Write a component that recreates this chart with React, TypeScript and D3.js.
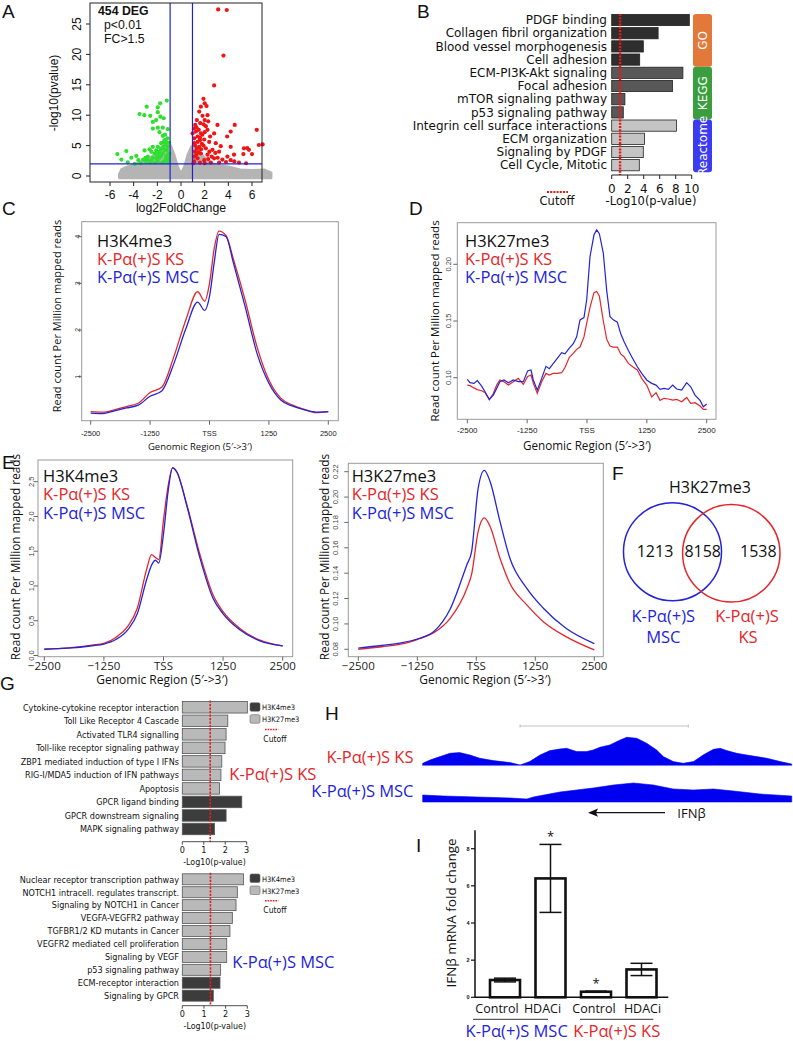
import React from 'react';
import * as d3 from 'd3';

const RED = '#e3262b';
const BLUE = '#2424d6';
const SANS = '"Open Sans", "Noto Sans", sans-serif';
const ARIAL = '"Liberation Sans", Arial, sans-serif';
const DJV = '"DejaVu Sans", sans-serif';
const DJVC = '"DejaVu Sans Condensed", "DejaVu Sans", sans-serif';

// ---------- A: volcano ----------
const grayX = [-5.2, -5, -4.5, -4, -3.5, -3, -2.5, -2, -1.6, -1.3, -1.1, -0.9, -0.6, -0.3, 0, 0.3, 0.6, 0.9, 1.1, 1.4, 1.8, 2.2, 2.7, 3.2, 4, 5, 6, 7, 7.6];
const grayTop = [0.3, 1.1, 1.5, 1.8, 2.2, 2.6, 3.1, 3.7, 4.4, 5.2, 5.4, 5.0, 3.5, 1.5, 0.3, 1.5, 3.5, 4.8, 5.0, 4.6, 3.3, 2.6, 2.0, 1.7, 1.5, 1.0, 0.9, 1.0, 0.5];
const greenPts: [number, number][] = [
  [-1.2, 12.4], [-1.96, 11.3], [-1.76, 11.95], [-2.9, 11.4], [-3.5, 10.2], [-3.1, 10.0], [-2.6, 9.9], [-1.96, 10.5],
  [-1.74, 9.76], [-1.46, 9.5], [-2.1, 9.2], [-2.38, 8.9], [-1.96, 7.95], [-1.54, 7.95], [-1.12, 7.7], [-1.82, 7.2],
  [-2.38, 7.8], [-1.54, 6.6], [-1.4, 5.9], [-1.68, 5.4], [-1.26, 5.6], [-1.96, 4.8], [-2.38, 4.8], [-2.66, 4.4],
  [-3.08, 4.2], [-3.78, 3.3], [-4.62, 4.1], [-5.38, 3.6], [-5.04, 2.7], [-3.6, 2.6], [-4.5, 2.25], [-3.2, 2.7],
  [-2.8, 3.2], [-2.24, 3.7], [-1.82, 4.0], [-1.4, 4.3], [-1.12, 4.8], [-0.98, 3.7], [-1.26, 3.2], [-1.68, 3.3],
  [-2.1, 2.9], [-2.52, 2.5], [-2.94, 2.4], [-1.96, 2.4], [-1.4, 2.4], [-1.12, 2.6], [-1.54, 3.7], [-1.12, 3.5],
  [-1.1, 2.2], [-1.3, 2.8], [-1.6, 2.2], [-1.8, 3.0], [-2.0, 3.4], [-2.2, 2.2], [-2.4, 3.0], [-2.6, 2.2],
  [-2.8, 2.6], [-3.0, 3.0], [-1.2, 4.2], [-1.5, 4.8], [-1.7, 4.5], [-1.9, 3.8], [-2.1, 4.2], [-1.3, 5.2],
  [-1.0, 5.5], [-1.45, 5.5], [-1.15, 6.2], [-1.35, 6.8], [-3.4, 2.1], [-3.9, 2.0], [-4.2, 3.0], [-2.5, 4.0], [-1.05, 3.0],
];
const redPts: [number, number][] = [
  [3.14, 27.4], [3.87, 27.3], [3.59, 19.8], [2.8, 14.9], [1.9, 12.7], [2.0, 11.95], [2.16, 11.5], [1.68, 11.4],
  [1.54, 10.6], [1.82, 9.9], [2.24, 10.0], [2.0, 9.2], [1.34, 9.2], [1.62, 8.7], [3.08, 8.4], [4.54, 8.4],
  [4.2, 7.3], [3.9, 6.5], [2.8, 7.0], [2.24, 7.6], [1.2, 8.4], [1.26, 7.3], [1.68, 7.0], [1.4, 6.5],
  [1.96, 6.0], [2.38, 5.6], [2.94, 5.4], [3.36, 4.9], [4.2, 4.8], [5.32, 4.55], [5.74, 4.3], [6.58, 5.1],
  [5.27, 3.6], [6.0, 3.6], [4.48, 3.5], [3.92, 3.2], [3.22, 4.0], [2.66, 4.3], [2.1, 4.55], [1.54, 4.8],
  [1.12, 5.4], [1.18, 4.0], [1.68, 3.7], [2.24, 3.5], [2.8, 2.9], [3.5, 2.7], [4.2, 2.6], [4.9, 2.2],
  [1.4, 2.9], [1.96, 2.6], [1.12, 2.4], [2.52, 2.2], [3.22, 2.2], [1.6, 5.9], [1.34, 4.5], [1.76, 5.3],
  [2.46, 6.5], [0.98, 7.0], [1.12, 6.2], [1.1, 3.2], [1.3, 3.5], [1.5, 3.9], [1.7, 4.4], [1.9, 5.0],
  [1.2, 5.0], [1.4, 5.6], [1.6, 6.3], [1.8, 6.8], [2.0, 7.2], [1.1, 7.8], [1.3, 8.0], [1.5, 7.6],
  [2.1, 8.2], [2.3, 9.0], [1.9, 8.5], [2.6, 3.2], [2.9, 3.8], [3.1, 3.0], [2.4, 4.0], [1.05, 2.1],
  [1.6, 2.2], [2.0, 2.1], [2.3, 2.8], [3.8, 2.3], [4.5, 2.4], [5.5, 2.1], [6.4, 7.6], [6.9, 5.2], [5.6, 4.6],
];

// ---------- B: enrichment ----------
const bTerms = ['PDGF binding', 'Collagen fibril organization', 'Blood vessel morphogenesis', 'Cell adhesion',
  'ECM-PI3K-Akt signaling', 'Focal adhesion', 'mTOR signaling pathway', 'p53 signaling pathway',
  'Integrin cell surface interactions', 'ECM organization', 'Signaling by PDGF', 'Cell Cycle, Mitotic'];
const bValues = [9.7, 5.8, 3.95, 3.5, 8.9, 7.6, 1.65, 1.45, 8.1, 4.1, 3.95, 3.45];
const bSource = ['GO', 'GO', 'GO', 'GO', 'KEGG', 'KEGG', 'KEGG', 'KEGG', 'Reactome', 'Reactome', 'Reactome', 'Reactome'];
const bDatabases = ['GO', 'KEGG', 'Reactome'];
const bTicks = [0, 2, 4, 6, 8, 10];
const bCutoff = 1.05;

// ---------- C / D / E: profiles ----------
const xTickVals = [-2500, -1250, 0, 1250, 2500];
const cPos = [-2500, -2250, -2000, -1750, -1500, -1250, -1000, -750, -500, -250, -100, 0, 100, 200, 350, 500, 750, 1000, 1250, 1500, 1750, 2000, 2250, 2500];
const cKS = [0.25, 0.24, 0.29, 0.36, 0.43, 0.66, 0.78, 1.43, 2.21, 2.82, 2.62, 3.0, 3.75, 4.12, 4.02, 3.53, 2.64, 1.64, 0.93, 0.54, 0.39, 0.3, 0.23, 0.25];
const cMSC = [0.22, 0.21, 0.27, 0.33, 0.39, 0.58, 0.7, 1.28, 2.02, 2.6, 2.42, 2.72, 3.45, 4.05, 4.0, 3.45, 2.5, 1.5, 0.86, 0.5, 0.37, 0.29, 0.24, 0.25];

const dPos = [-2500, -2444, -2361, -2291, -2200, -2131, -2040, -1957, -1887, -1818, -1734, -1643, -1539, -1435, -1330, -1240, -1170, -1121, -1038, -947, -857, -787, -703, -620, -529, -460, -369, -286, -216, -146, -63, -7, 63, 146, 202, 258, 341, 411, 480, 550, 634, 703, 773, 864, 954, 1052, 1142, 1247, 1351, 1442, 1525, 1609, 1699, 1790, 1873, 1978, 2082, 2166, 2256, 2361, 2430, 2500];
const dMSC = [0.0985, 0.0956, 0.095, 0.0974, 0.0926, 0.0876, 0.081, 0.0847, 0.0906, 0.0965, 0.098, 0.0956, 0.098, 0.0965, 0.0965, 0.106, 0.1068, 0.098, 0.089, 0.0994, 0.11, 0.108, 0.1126, 0.117, 0.122, 0.121, 0.126, 0.13, 0.136, 0.151, 0.153, 0.1685, 0.2068, 0.226, 0.2303, 0.227, 0.2097, 0.177, 0.1538, 0.151, 0.149, 0.139, 0.132, 0.124, 0.117, 0.1097, 0.1038, 0.098, 0.095, 0.0935, 0.0897, 0.0906, 0.0897, 0.0935, 0.09, 0.089, 0.0956, 0.092, 0.0847, 0.08, 0.0744, 0.0768];
const dKS = [0.0935, 0.093, 0.091, 0.0895, 0.0885, 0.087, 0.0805, 0.086, 0.0935, 0.098, 0.0965, 0.0935, 0.0965, 0.0994, 0.094, 0.101, 0.1024, 0.095, 0.0862, 0.0965, 0.1038, 0.1024, 0.1038, 0.1038, 0.1044, 0.109, 0.118, 0.1215, 0.125, 0.127, 0.136, 0.148, 0.162, 0.175, 0.176, 0.172, 0.15, 0.134, 0.128, 0.127, 0.127, 0.121, 0.1185, 0.1126, 0.1097, 0.1068, 0.0994, 0.0935, 0.083, 0.0868, 0.08, 0.0818, 0.0812, 0.0803, 0.0809, 0.0788, 0.0826, 0.0774, 0.078, 0.075, 0.0721, 0.0721];

const e1Pos = [-2500, -2000, -1500, -1250, -1000, -750, -550, -350, -250, -170, -100, 0, 100, 190, 280, 490, 765, 1040, 1250, 1600, 2020, 2500];
const e1KS = [0.09, 0.11, 0.15, 0.175, 0.26, 0.42, 0.68, 1.25, 1.45, 1.41, 1.38, 1.95, 2.45, 2.7, 2.64, 2.17, 1.45, 0.87, 0.63, 0.39, 0.22, 0.137];
const e1MSC = [0.09, 0.105, 0.14, 0.165, 0.23, 0.37, 0.6, 1.1, 1.3, 1.37, 1.33, 1.75, 2.38, 2.7, 2.64, 2.15, 1.4, 0.82, 0.6, 0.37, 0.21, 0.137];

const e2Pos = [-2500, -2000, -1600, -1200, -900, -550, -200, -100, 40, 170, 290, 500, 710, 1070, 1420, 1900, 2500];
const e2MSC = [0.081, 0.083, 0.085, 0.0887, 0.094, 0.112, 0.1467, 0.157, 0.207, 0.221, 0.2125, 0.181, 0.152, 0.128, 0.1124, 0.0966, 0.0845];
const e2KS = [0.08, 0.082, 0.084, 0.0885, 0.093, 0.1045, 0.128, 0.139, 0.173, 0.1836, 0.177, 0.152, 0.132, 0.115, 0.1018, 0.09, 0.0795];

// ---------- F: venn ----------
const vennCounts = [1213, 8158, 1538];

// ---------- G: enrichment by mark ----------
const gKsTerms = ['Cytokine-cytokine receptor interaction', 'Toll Like Receptor 4 Cascade', 'Activated TLR4 signalling',
  'Toll-like receptor signaling pathway', 'ZBP1 mediated induction of type I IFNs', 'RIG-I/MDA5 induction of IFN pathways',
  'Apoptosis', 'GPCR ligand binding', 'GPCR downstream signaling', 'MAPK signaling pathway'];
const gKsValues = [3.03, 2.12, 2.04, 1.99, 1.84, 1.8, 1.73, 2.77, 2.04, 1.5];
const gKsMarks = ['H3K27me3', 'H3K27me3', 'H3K27me3', 'H3K27me3', 'H3K27me3', 'H3K27me3', 'H3K27me3', 'H3K4me3', 'H3K4me3', 'H3K4me3'];
const gMscTerms = ['Nuclear receptor transcription pathway', 'NOTCH1 intracell. regulates transcript.', 'Signaling by NOTCH1 in Cancer',
  'VEGFA-VEGFR2 pathway', 'TGFBR1/2 KD mutants in Cancer', 'VEGFR2 mediated cell proliferation', 'Signaling by VEGF',
  'p53 signaling pathway', 'ECM-receptor interaction', 'Signaling by GPCR'];
const gMscValues = [2.82, 2.54, 2.48, 2.31, 2.2, 2.05, 2.05, 1.77, 1.74, 1.43];
const gMscMarks = ['H3K27me3', 'H3K27me3', 'H3K27me3', 'H3K27me3', 'H3K27me3', 'H3K27me3', 'H3K27me3', 'H3K27me3', 'H3K4me3', 'H3K4me3'];
const gTicks = [0, 1, 2, 3];
const gCutoff = 1.3;

// ---------- H: tracks (position in % of window, signal) ----------
const hKsPos = [0, 2, 4.7, 7.4, 10, 12.8, 15.5, 19.1, 23.7, 26.4, 29, 31.8, 34.5, 37.2, 39, 41.7, 44.4, 46.2, 48, 50.7, 53.5, 55.3, 58, 60.7, 63.4, 65.2, 67.9, 70.6, 73.4, 76, 78.8, 80.6, 82.4, 85.1, 87.8, 90.5, 93.3, 96.9, 100];
const hKsSig = [2, 5.3, 8.7, 12, 12.7, 10.3, 7, 4.7, 2.7, 0.3, 3.7, 10.3, 14.7, 16.3, 17, 13.7, 13.7, 15.3, 18, 20.3, 25.3, 28, 27, 22, 15.3, 8.7, 3.7, 2, 3.7, 10.3, 16, 17, 14.7, 12, 10.3, 8.7, 7, 3.7, 1.3];
const hMscPos = [0, 5.6, 14.6, 23.7, 28.2, 30, 37.2, 46.2, 51.7, 57.1, 62.5, 67.9, 73.4, 78.8, 84.2, 91.4, 100];
const hMscSig = [7, 6, 5, 4, 3, 5, 10, 14, 17, 19, 17, 13, 12, 13, 11, 8, 6];

// ---------- I: qPCR ----------
const iConds = ['Control', 'HDACi', 'Control', 'HDACi'];
const iMeans = [0.93, 6.4, 0.3, 1.5];
const iErrs = [0.1, 1.83, 0.03, 0.33];
const iStars = [false, true, true, false];
const iTicks = [0, 2, 4, 6, 8];

function Label({ x, y, t }: { x: number; y: number; t: string }) {
  return <text x={x} y={y} fontFamily={ARIAL} fontSize={19} fill="#111">{t}</text>;
}

function Volcano() {
  const x = d3.scaleLinear().domain([-6, 6]).range([110, 252]);
  const y = d3.scaleLinear().domain([0, 25]).range([176, 24]);
  const area = d3.area<number>().x((_, i) => x(grayX[i])).y0(y(-0.3)).y1((d) => y(d));
  return (
    <g>
      <path d={area(grayTop) || ''} fill="#b4b4b4" stroke="#b4b4b4" strokeWidth={3} strokeLinejoin="round" />
      {greenPts.map((p, i) => <circle key={'g' + i} cx={x(p[0])} cy={y(p[1])} r={2.1} fill="#2ee02e" />)}
      {redPts.map((p, i) => <circle key={'r' + i} cx={x(p[0])} cy={y(p[1])} r={2.1} fill="#f01414" />)}
      <line x1={x(-0.92)} x2={x(-0.92)} y1={3} y2={182} stroke="#2222cc" strokeWidth={1.2} />
      <line x1={x(0.97)} x2={x(0.97)} y1={3} y2={182} stroke="#2222cc" strokeWidth={1.2} />
      <line x1={90} x2={262} y1={y(2)} y2={y(2)} stroke="#2222cc" strokeWidth={1.2} />
      <rect x={90} y={3} width={172} height={179} fill="none" stroke="#222" strokeWidth={1} />
      {d3.range(-6, 7, 2).map((v) => (
        <g key={v}>
          <line x1={x(v)} x2={x(v)} y1={182} y2={186} stroke="#222" />
          <text x={x(v)} y={199} textAnchor="middle" fontFamily={ARIAL} fontSize={12} fill="#111">{v}</text>
        </g>
      ))}
      {d3.range(0, 26, 5).map((v) => (
        <g key={v}>
          <line x1={86} x2={90} y1={y(v)} y2={y(v)} stroke="#222" />
          <text transform={`translate(81,${y(v)}) rotate(-90)`} textAnchor="middle" fontFamily={ARIAL} fontSize={12} fill="#111">{v}</text>
        </g>
      ))}
      <text x={181} y={212} textAnchor="middle" fontFamily={ARIAL} fontSize={12.3} fill="#111">log2FoldChange</text>
      <text transform="translate(58,93) rotate(-90)" textAnchor="middle" fontFamily={ARIAL} fontSize={12} fill="#111">-log10(pvalue)</text>
      <text x={98} y={15} fontFamily={ARIAL} fontSize={12.3} fontWeight="bold" fill="#111">454 DEG</text>
      <text x={104} y={29} fontFamily={ARIAL} fontSize={12.3} fill="#111">p&lt;0.01</text>
      <text x={104} y={43} fontFamily={ARIAL} fontSize={12.3} fill="#111">FC&gt;1.5</text>
    </g>
  );
}

function EnrichB() {
  const x = d3.scaleLinear().domain([0, 10]).range([611.7, 691.7]);
  const y = d3.scaleBand<string>().domain(bTerms).range([13.4, 171.8]).paddingInner(0.15).paddingOuter(0.075);
  const fills: Record<string, string> = { GO: '#2e2e2e', KEGG: '#585858', Reactome: '#c4c4c4' };
  const boxColors: Record<string, string> = { GO: '#e2793a', KEGG: '#3a9e3e', Reactome: '#3b3bf2' };
  const bw = y.bandwidth();
  return (
    <g>
      {bTerms.map((t, i) => (
        <g key={t}>
          <rect x={x(0)} y={y(t)!} width={x(bValues[i]) - x(0)} height={bw} fill={fills[bSource[i]]} stroke="#222" strokeWidth={0.8} />
          <text x={607} y={y(t)! + bw / 2 + 4.2} textAnchor="end" fontFamily={DJV} fontSize={12} fill="#111">{t}</text>
        </g>
      ))}
      <line x1={x(bCutoff)} x2={x(bCutoff)} y1={14} y2={175} stroke="#e81818" strokeWidth={2.4} strokeDasharray="2,1.2" />
      {bDatabases.map((db) => {
        const rows = bTerms.filter((_, i) => bSource[i] === db);
        const top = y(rows[0])! - 0.5;
        const bot = y(rows[rows.length - 1])! + bw + 1.5;
        return (
          <g key={db}>
            <rect x={693} y={top} width={19} height={bot - top} rx={3} fill={boxColors[db]} />
            <text transform={`translate(${706.5},${(top + bot) / 2}) rotate(-90)`} textAnchor="middle" fontFamily={DJV} fontSize={12} fill="#fff">{db}</text>
          </g>
        );
      })}
      <line x1={x(0)} x2={x(10)} y1={175} y2={175} stroke="#222" strokeWidth={1} />
      {bTicks.map((v) => (
        <g key={v}>
          <line x1={x(v)} x2={x(v)} y1={175} y2={179} stroke="#222" />
          <text x={x(v)} y={193} textAnchor="middle" fontFamily={DJV} fontSize={12} fill="#111">{v}</text>
        </g>
      ))}
      <line x1={547} x2={568} y1={192} y2={192} stroke="#e81818" strokeWidth={2} strokeDasharray="2,1.2" />
      <text x={557} y={205} textAnchor="middle" fontFamily={DJV} fontSize={11.5} fill="#111">Cutoff</text>
      <text x={651} y={205} textAnchor="middle" fontFamily={DJV} fontSize={11.5} fill="#111">-Log10(p-value)</text>
    </g>
  );
}

type ProfProps = {
  frame: [number, number, number, number];
  xr: [number, number];
  yd: [number, number];
  yr: [number, number];
  yTicks: number[];
  yFmt: (v: number) => string;
  pos: number[];
  ks: number[];
  msc: number[];
  mark: string;
  legend: [number, number];
  tickY: number;
  tickFont: string;
  tickSize: number;
  minus: string;
  title: [number, number, number];
  yLabelX: number;
  yTitle: [number, number];
  ySize: number;
  curve: d3.CurveFactory;
  lw: number;
};

function Profile(p: ProfProps) {
  const [l, t, r, b] = p.frame;
  const x = d3.scaleLinear().domain([-2500, 2500]).range(p.xr);
  const y = d3.scaleLinear().domain(p.yd).range(p.yr);
  const line = d3.line<number>().x((_, i) => x(p.pos[i])).y((d) => y(d)).curve(p.curve);
  const xl = (v: number) => (v === 0 ? 'TSS' : v < 0 ? p.minus + Math.abs(v) : String(v));
  return (
    <g>
      <path d={line(p.ks) || ''} fill="none" stroke={RED} strokeWidth={p.lw} />
      <path d={line(p.msc) || ''} fill="none" stroke={BLUE} strokeWidth={p.lw} />
      <rect x={l} y={t} width={r - l} height={b - t} fill="none" stroke="#9a9a9a" strokeWidth={1} />
      {xTickVals.map((v) => (
        <g key={v}>
          <line x1={x(v)} x2={x(v)} y1={b} y2={b + 4} stroke="#666" />
          <text x={x(v)} y={p.tickY} textAnchor="middle" fontFamily={p.tickFont} fontSize={p.tickSize} fill="#222">{xl(v)}</text>
        </g>
      ))}
      {p.yTicks.map((v) => (
        <g key={v}>
          <line x1={l - 4} x2={l} y1={y(v)} y2={y(v)} stroke="#666" />
          <text transform={`translate(${p.yLabelX},${y(v)}) rotate(-90)`} textAnchor="middle" fontFamily={ARIAL} fontSize={7.5} fill="#444">{p.yFmt(v)}</text>
        </g>
      ))}
      <text x={p.title[0]} y={p.title[1]} textAnchor="middle" fontFamily={SANS} fontSize={p.title[2]} fill="#111">Genomic Region (5′-&gt;3′)</text>
      <text transform={`translate(${p.yTitle[0]},${p.yTitle[1]}) rotate(-90)`} textAnchor="middle" fontFamily={SANS} fontSize={p.ySize} fill="#111">Read count Per Million mapped reads</text>
      <text x={p.legend[0]} y={p.legend[1]} fontFamily={SANS} fontSize={16.5} fill="#111">{p.mark}</text>
      <text x={p.legend[0]} y={p.legend[1] + 18.3} fontFamily={SANS} fontSize={16.5} fill={RED}>K-Pα(+)S KS</text>
      <text x={p.legend[0]} y={p.legend[1] + 36.6} fontFamily={SANS} fontSize={16.5} fill={BLUE}>K-Pα(+)S MSC</text>
    </g>
  );
}

function Venn() {
  return (
    <g>
      <text x={710} y={493} textAnchor="middle" fontFamily={SANS} fontSize={16} fill="#111">H3K27me3</text>
      <circle cx={672.5} cy={551.7} r={49} fill="none" stroke={BLUE} strokeWidth={1.5} />
      <circle cx={731.3} cy={553.3} r={48.7} fill="none" stroke={RED} strokeWidth={1.5} />
      {vennCounts.map((c, i) => (
        <text key={i} x={[655, 702.7, 758.3][i]} y={557} textAnchor="middle" fontFamily={SANS} fontSize={16} fill="#111">{c}</text>
      ))}
      <text x={663.3} y={621.7} textAnchor="middle" fontFamily={SANS} fontSize={16.5} fill={BLUE}>K-Pα(+)S</text>
      <text x={663.3} y={643.3} textAnchor="middle" fontFamily={SANS} fontSize={16.5} fill={BLUE}>MSC</text>
      <text x={747} y={621.7} textAnchor="middle" fontFamily={SANS} fontSize={16.5} fill={RED}>K-Pα(+)S</text>
      <text x={748} y={643.3} textAnchor="middle" fontFamily={SANS} fontSize={16.5} fill={RED}>KS</text>
    </g>
  );
}

type GProps = {
  terms: string[];
  values: number[];
  marks: string[];
  rows: [number, number];
  xEnd: number;
  axisY: number;
  legendTop: number;
  name: string;
  nameColor: string;
  namePos: [number, number];
};

function EnrichG(p: GProps) {
  const x = d3.scaleLinear().domain([0, 3]).range([182.3, p.xEnd]);
  const y = d3.scaleBand<string>().domain(p.terms).range(p.rows).paddingInner(0.15).paddingOuter(0.075);
  const bw = y.bandwidth();
  const lt = p.legendTop;
  return (
    <g>
      {p.terms.map((t, i) => (
        <g key={t}>
          <rect x={x(0)} y={y(t)!} width={x(p.values[i]) - x(0)} height={bw}
            fill={p.marks[i] === 'H3K4me3' ? '#3c3c3c' : '#b9b9b9'} stroke="#555" strokeWidth={0.8} />
          <text x={179} y={y(t)! + bw / 2 + 3.3} textAnchor="end" fontFamily={DJVC} fontSize={9} fill="#111">{t}</text>
        </g>
      ))}
      <line x1={x(gCutoff)} x2={x(gCutoff)} y1={y(p.terms[0])! - 1} y2={p.axisY} stroke="#e02020" strokeWidth={1.6} strokeDasharray="2.2,1.3" />
      <line x1={x(0)} x2={x(3)} y1={p.axisY} y2={p.axisY} stroke="#222" strokeWidth={0.8} />
      {gTicks.map((v) => (
        <g key={v}>
          <line x1={x(v)} x2={x(v)} y1={p.axisY} y2={p.axisY + 3} stroke="#222" strokeWidth={0.8} />
          <text x={x(v)} y={p.axisY + 11} textAnchor="middle" fontFamily={DJVC} fontSize={9} fill="#111">{v}</text>
        </g>
      ))}
      <text x={(x(0) + x(3)) / 2} y={p.axisY + 23} textAnchor="middle" fontFamily={DJVC} fontSize={8.8} fill="#111">-Log10(p-value)</text>
      <rect x={250} y={lt} width={10} height={8.5} rx={1.5} fill="#3c3c3c" stroke="#666" strokeWidth={0.6} />
      <text x={262} y={lt + 7.5} fontFamily={DJVC} fontSize={7.5} fill="#111">H3K4me3</text>
      <rect x={250} y={lt + 12} width={10} height={8.5} rx={1.5} fill="#b9b9b9" stroke="#666" strokeWidth={0.6} />
      <text x={262} y={lt + 19.7} fontFamily={DJVC} fontSize={7.5} fill="#111">H3K27me3</text>
      <line x1={265} x2={278.3} y1={lt + 26.8} y2={lt + 26.8} stroke="#e02020" strokeWidth={1.4} strokeDasharray="1.6,1" />
      <text x={263.3} y={lt + 38.8} fontFamily={DJVC} fontSize={8.5} fill="#111">Cutoff</text>
      <text x={p.namePos[0]} y={p.namePos[1]} fontFamily={SANS} fontSize={16.5} fill={p.nameColor}>{p.name}</text>
    </g>
  );
}

function Tracks() {
  const x = d3.scaleLinear().domain([0, 100]).range([422.7, 791.7]);
  const ksY = d3.scaleLinear().domain([0, 28]).range([765.3, 737.3]);
  const mscY = d3.scaleLinear().domain([0, 19]).range([802, 783]);
  const ksArea = d3.area<number>().x((_, i) => x(hKsPos[i])).y0(ksY(0)).y1((d) => ksY(d));
  const mscArea = d3.area<number>().x((_, i) => x(hMscPos[i])).y0(mscY(0)).y1((d) => mscY(d));
  return (
    <g>
      <line x1={520} x2={688.3} y1={726} y2={726} stroke="#999" strokeWidth={0.6} />
      <line x1={520} x2={520} y1={724.5} y2={727.5} stroke="#999" strokeWidth={0.6} />
      <line x1={688.3} x2={688.3} y1={724.5} y2={727.5} stroke="#999" strokeWidth={0.6} />
      <path d={ksArea(hKsSig) || ''} fill="#0000f0" stroke="#0000f0" strokeWidth={0.6} />
      <line x1={422.7} x2={791.7} y1={765.6} y2={765.6} stroke="#8888ff" strokeWidth={0.6} />
      <path d={mscArea(hMscSig) || ''} fill="#0000f0" stroke="#0000f0" strokeWidth={0.6} />
      <text x={413.5} y={762.7} textAnchor="end" fontFamily={SANS} fontSize={16.5} fill={RED}>K-Pα(+)S KS</text>
      <text x={413.5} y={797} textAnchor="end" fontFamily={SANS} fontSize={16.5} fill={BLUE}>K-Pα(+)S MSC</text>
      <line x1={596} x2={665} y1={812.7} y2={812.7} stroke="#111" strokeWidth={1.3} />
      <path d="M588,812.7 L598,808.6 L596,812.7 L598,816.8 Z" fill="#111" />
      <text x={677.3} y={818.3} fontFamily={SANS} fontSize={13} fill="#111">IFNβ</text>
    </g>
  );
}

const iLabelShift = [-8, -8, -2, 1];

function QPCR() {
  const y = d3.scaleLinear().domain([0, 8]).range([997.3, 848.7]);
  const x = d3.scalePoint<number>().domain(d3.range(iConds.length)).range([505, 641.5]);
  const bw = 30;
  return (
    <g>
      <line x1={475} x2={475} y1={y(9)} y2={y(0)} stroke="#111" strokeWidth={1.5} />
      <line x1={475} x2={668.3} y1={y(0)} y2={y(0)} stroke="#111" strokeWidth={1.5} />
      {iTicks.map((v) => (
        <g key={v}>
          <line x1={471} x2={475} y1={y(v)} y2={y(v)} stroke="#111" strokeWidth={1.2} />
          <text x={469.5} y={y(v) + 2} textAnchor="end" fontFamily={ARIAL} fontWeight="bold" fontSize={5.5} fill="#111">{v}</text>
        </g>
      ))}
      {iConds.map((c, i) => {
        const cx = x(i)!;
        return (
          <g key={i}>
            <line x1={cx} x2={cx} y1={y(iMeans[i] + iErrs[i])} y2={y(iMeans[i] - iErrs[i])} stroke="#111" strokeWidth={1.5} />
            <line x1={cx - 11} x2={cx + 11} y1={y(iMeans[i] + iErrs[i])} y2={y(iMeans[i] + iErrs[i])} stroke="#111" strokeWidth={1.5} />
            <line x1={cx - 11} x2={cx + 11} y1={y(iMeans[i] - iErrs[i])} y2={y(iMeans[i] - iErrs[i])} stroke="#111" strokeWidth={1.5} />
            <rect x={cx - bw / 2} y={y(iMeans[i])} width={bw} height={y(0) - y(iMeans[i])} fill="none" stroke="#111" strokeWidth={2.6} />
            {iStars[i] && (
              <text x={cx} y={y(iMeans[i] + iErrs[i]) - 3} textAnchor="middle" fontFamily={SANS} fontSize={13} fill="#111">*</text>
            )}
            <text x={cx + iLabelShift[i]} y={1013.3} textAnchor="middle" fontFamily={SANS} fontSize={12.5} fill="#111">{c}</text>
          </g>
        );
      })}
      <line x1={473} x2={548} y1={1019.3} y2={1019.3} stroke="#333" strokeWidth={1} />
      <line x1={580} x2={653.3} y1={1019.3} y2={1019.3} stroke="#333" strokeWidth={1} />
      <text x={516.7} y={1036.7} textAnchor="middle" fontFamily={SANS} fontSize={16.5} fill={BLUE}>K-Pα(+)S MSC</text>
      <text x={616.7} y={1036.7} textAnchor="middle" fontFamily={SANS} fontSize={16.5} fill={RED}>K-Pα(+)S KS</text>
      <text transform="translate(456,913) rotate(-90)" textAnchor="middle" fontFamily={SANS} fontSize={13.5} fill="#111">IFNβ mRNA fold change</text>
    </g>
  );
}

export default function App() {
  return (
    <div style={{ position: 'absolute', left: 0, top: 0 }}>
      <svg width={793} height={1041} style={{ display: 'block' }}>
        <rect width={793} height={1041} fill="#fff" />
        <Label x={2} y={17.5} t="A" />
        <Volcano />
        <Label x={417} y={17.5} t="B" />
        <EnrichB />
        <Label x={2} y={215} t="C" />
        <Profile frame={[81.7, 221.7, 338.3, 420.7]} xr={[90.7, 328.3]} yd={[1, 4]} yr={[376.7, 236.7]}
          yTicks={[1, 2, 3, 4]} yFmt={(v) => String(v)} pos={cPos} ks={cKS} msc={cMSC} mark="H3K4me3"
          legend={[97, 246.7]} tickY={435.5} tickFont={ARIAL} tickSize={7.5} minus="-" title={[200, 450, 9.5]}
          yLabelX={80} yTitle={[61, 316]} ySize={11} curve={d3.curveMonotoneX} lw={1.3} />
        <Label x={409} y={215} t="D" />
        <Profile frame={[457.3, 222.7, 716, 419.3]} xr={[467.3, 706.7]} yd={[0.1, 0.2]} yr={[377.7, 264.3]}
          yTicks={[0.1, 0.15, 0.2]} yFmt={(v) => v.toFixed(2)} pos={dPos} ks={dKS} msc={dMSC} mark="H3K27me3"
          legend={[465, 246.7]} tickY={433} tickFont={ARIAL} tickSize={8} minus="-" title={[587, 450, 11.7]}
          yLabelX={451} yTitle={[439, 321]} ySize={11.5} curve={d3.curveLinear} lw={1.2} />
        <Label x={2} y={469} t="E" />
        <Profile frame={[38, 460, 292.7, 656.7]} xr={[44.3, 282.7]} yd={[0, 2.5]} yr={[655.5, 481.7]}
          yTicks={[0, 0.5, 1, 1.5, 2, 2.5]} yFmt={(v) => v.toFixed(1)} pos={e1Pos} ks={e1KS} msc={e1MSC} mark="H3K4me3"
          legend={[43, 482]} tickY={670} tickFont={SANS} tickSize={11.5} minus="−" title={[162, 684, 12]}
          yLabelX={34} yTitle={[20, 557]} ySize={11.8} curve={d3.curveMonotoneX} lw={1.3} />
        <Profile frame={[348.3, 463.3, 603.3, 656.7]} xr={[358.3, 594.3]} yd={[0.08, 0.22]} yr={[649.3, 471.7]}
          yTicks={[0.08, 0.1, 0.12, 0.14, 0.16, 0.18, 0.2, 0.22]} yFmt={(v) => v.toFixed(2)} pos={e2Pos} ks={e2KS} msc={e2MSC} mark="H3K27me3"
          legend={[351.7, 482]} tickY={670} tickFont={SANS} tickSize={11.5} minus="−" title={[485, 684, 12]}
          yLabelX={338} yTitle={[329, 557]} ySize={11.8} curve={d3.curveMonotoneX} lw={1.3} />
        <Label x={612} y={480} t="F" />
        <Venn />
        <Label x={0} y={690} t="G" />
        <EnrichG terms={gKsTerms} values={gKsValues} marks={gKsMarks} rows={[700.54, 835.74]} xEnd={246.7} axisY={841.7}
          legendTop={702.7} name="K-Pα(+)S KS" nameColor={RED} namePos={[229.3, 780]} />
        <EnrichG terms={gMscTerms} values={gMscValues} marks={gMscMarks} rows={[872.83, 1002.13]} xEnd={247.3} axisY={1005.7}
          legendTop={874} name="K-Pα(+)S MSC" nameColor={BLUE} namePos={[232.3, 968.3]} />
        <Label x={325} y={720} t="H" />
        <Tracks />
        <Label x={416} y={852} t="I" />
        <QPCR />
      </svg>
    </div>
  );
}
